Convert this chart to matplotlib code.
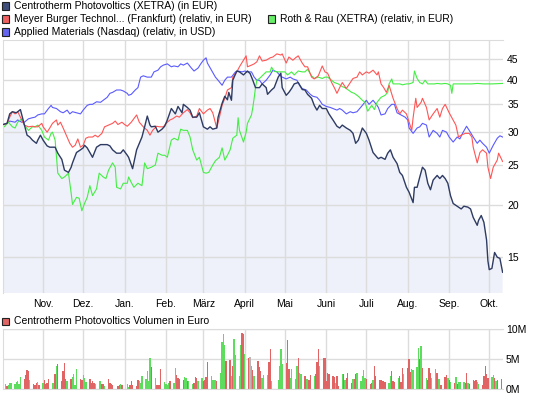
import numpy as np
import pandas as pd
import matplotlib
matplotlib.use("Agg")
import matplotlib.pyplot as plt
import matplotlib.dates as mdates
from matplotlib.patches import Rectangle
from matplotlib.ticker import NullLocator, FixedLocator, FixedFormatter

plt.rcParams['font.family'] = ['Liberation Sans', 'DejaVu Sans']

# (day since 2010-10-02, price)
centrotherm = [(0, 31.3), (3, 31.5), (5, 33.2), (7, 33.6), (10, 33.4), (13, 34.0), (15, 32.1), (18, 29.5),
               (20, 29.2), (22, 28.7), (25, 28.2), (26, 28.7), (28, 29.5), (30, 28.7), (33, 27.8), (35, 27.6),
               (39, 27.6), (41, 26.7), (44, 25.8), (46, 24.3), (49, 24.0), (51, 24.7), (52, 25.3), (55, 26.8),
               (58, 27.2), (60, 27.5), (61, 27.9), (63, 27.5), (65, 26.8), (67, 26.1), (70, 27.6), (73, 28.0),
               (78, 28.0), (80, 27.8), (82, 27.2), (85, 26.7), (88, 26.7), (90, 27.2), (93, 26.4), (94, 26.1),
               (97, 24.5), (100, 27.2), (102, 28.2), (104, 29.2), (106, 30.9), (108, 32.8), (110, 31.2), (111, 30.9),
               (114, 31.0), (116, 30.0), (119, 30.5), (121, 31.0), (123, 32.1), (126, 34.2), (129, 33.2), (131, 34.6),
               (134, 33.4), (135, 35.0), (138, 34.4), (140, 33.9), (142, 32.6), (145, 32.6), (147, 33.4), (150, 30.9),
               (153, 30.5), (155, 30.9), (157, 30.5), (160, 30.7), (161, 32.6), (164, 35.2), (166, 36.6), (168, 35.9),
               (169, 37.4), (171, 35.8), (172, 40.0), (175, 42.1), (177, 41.9), (180, 41.2), (183, 42.1), (185, 41.5),
               (187, 40.0), (189, 38.4), (192, 38.4), (194, 39.2), (197, 38.4), (198, 37.0), (201, 37.9), (203, 38.4),
               (206, 40.7), (208, 41.6), (209, 38.4), (212, 36.8), (214, 37.4), (216, 38.2), (218, 39.2), (221, 39.5),
               (224, 38.0), (226, 37.9), (228, 37.0), (231, 36.2), (233, 34.8), (235, 33.9), (237, 34.8), (239, 34.2),
               (242, 34.2), (244, 33.2), (247, 32.1), (250, 31.0), (252, 30.7), (254, 31.2), (257, 30.7), (260, 30.3),
               (262, 29.8), (264, 28.2), (266, 28.7), (269, 30.7), (272, 29.8), (274, 28.7), (277, 26.8), (280, 26.1),
               (281, 25.9), (283, 26.1), (286, 25.8), (288, 26.7), (290, 27.2), (292, 26.1), (295, 25.2), (297, 24.0),
               (299, 23.6), (302, 22.1), (304, 21.5), (307, 20.3), (308, 22.1), (310, 22.1), (312, 23.4), (314, 24.7),
               (316, 24.3), (318, 22.6), (320, 21.8), (322, 23.0), (325, 23.6), (327, 23.2), (329, 23.6), (331, 23.2),
               (333, 22.6), (335, 21.1), (337, 20.2), (340, 19.9), (343, 19.6), (345, 19.9), (348, 19.8), (350, 19.6),
               (352, 18.7), (355, 17.9), (356, 18.4), (358, 18.9), (360, 18.2), (362, 16.5), (363, 14.7), (364, 14.0),
               (366, 14.1), (368, 15.4), (370, 15.0), (372, 14.9), (374, 13.8)]

meyer = [(0, 31.2), (3, 31.5), (5, 32.6), (7, 33.6), (9, 33.2), (11, 33.6), (14, 32.1), (16, 31.2), (19, 30.9),
         (22, 31.0), (24, 30.9), (26, 30.9), (29, 31.5), (30, 30.9), (33, 30.0), (35, 30.7), (37, 31.5), (40, 32.1),
         (41, 31.2), (43, 31.7), (45, 30.7), (48, 29.2), (50, 28.2), (52, 27.6), (54, 27.9), (56, 28.9), (58, 27.6),
         (60, 27.9), (62, 29.0), (64, 29.2), (67, 29.2), (69, 29.5), (71, 29.2), (74, 29.8), (76, 30.9), (79, 31.2),
         (82, 31.5), (84, 31.9), (86, 31.3), (89, 31.7), (91, 31.3), (93, 31.0), (96, 31.7), (100, 33.0), (102, 31.7),
         (105, 30.9), (108, 30.3), (110, 29.5), (112, 30.3), (115, 31.0), (117, 30.9), (120, 30.9), (123, 31.7),
         (125, 32.1), (127, 32.3), (130, 32.8), (132, 32.6), (135, 33.4), (138, 34.0), (140, 33.4), (142, 32.5),
         (145, 32.8), (147, 34.2), (150, 33.2), (153, 33.9), (155, 34.2), (157, 33.4), (160, 30.7), (162, 32.6),
         (164, 34.8), (166, 36.2), (168, 37.9), (171, 38.4), (172, 40.7), (175, 41.9), (177, 43.1), (180, 44.7),
         (182, 45.8), (183, 43.1), (186, 43.5), (188, 43.8), (190, 44.3), (192, 45.8), (194, 44.5), (197, 44.7),
         (200, 45.3), (202, 45.5), (205, 46.3), (208, 46.0), (209, 46.3), (212, 44.0), (214, 45.5), (217, 44.7),
         (219, 45.3), (221, 45.8), (224, 44.0), (226, 43.1), (228, 43.1), (231, 40.7), (233, 40.3), (236, 41.0),
         (239, 43.3), (241, 41.9), (243, 41.6), (246, 39.5), (248, 38.4), (250, 37.2), (252, 38.4), (254, 39.5),
         (257, 38.2), (260, 39.5), (262, 40.4), (265, 40.7), (267, 41.9), (269, 41.2), (272, 41.9), (274, 41.6),
         (277, 42.3), (280, 41.2), (281, 41.9), (283, 39.2), (285, 38.4), (287, 37.4), (289, 38.9), (292, 36.2),
         (295, 34.2), (297, 33.2), (299, 33.9), (302, 33.2), (304, 31.7), (306, 30.3), (307, 32.5), (309, 36.2),
         (310, 34.4), (313, 35.4), (314, 36.2), (317, 34.4), (319, 32.1), (322, 33.2), (325, 34.2), (327, 32.6),
         (329, 34.2), (331, 35.0), (334, 33.4), (336, 32.5), (339, 31.2), (341, 29.2), (343, 29.5), (346, 29.8),
         (349, 29.8), (351, 29.2), (352, 27.6), (355, 25.3), (357, 26.8), (359, 27.2), (362, 26.7), (363, 24.7),
         (365, 23.2), (367, 24.7), (370, 25.7), (371, 26.7), (373, 25.9), (374, 25.5)]

roth = [(0, 31.2), (1, 30.9), (4, 31.7), (7, 30.9), (9, 30.7), (11, 31.7), (14, 32.3), (16, 31.2), (19, 30.3),
        (22, 30.9), (24, 30.9), (26, 31.2), (29, 30.3), (31, 29.2), (34, 28.7), (36, 29.8), (37, 30.0), (39, 28.7),
        (40, 26.1), (41, 23.9), (44, 23.2), (46, 23.4), (49, 23.9), (51, 21.4), (52, 20.1), (55, 20.9), (57, 20.8),
        (59, 19.4), (61, 20.2), (63, 20.9), (65, 22.3), (67, 21.1), (70, 21.9), (72, 23.9), (75, 23.4), (77, 23.2),
        (79, 24.3), (82, 25.3), (84, 24.7), (85, 22.1), (88, 21.9), (90, 22.6), (93, 22.6), (94, 23.4), (96, 22.7),
        (98, 22.1), (101, 22.6), (104, 22.3), (106, 25.3), (108, 24.5), (111, 24.7), (114, 25.0), (116, 26.7),
        (119, 26.4), (121, 26.4), (123, 26.1), (126, 28.7), (128, 29.0), (131, 28.7), (133, 30.5), (135, 30.3),
        (138, 30.3), (140, 29.2), (142, 27.2), (145, 25.7), (147, 26.1), (150, 24.0), (152, 23.9), (154, 24.0),
        (157, 25.0), (159, 25.6), (162, 26.1), (164, 27.5), (166, 25.7), (168, 26.4), (170, 27.2), (172, 29.0),
        (175, 29.5), (176, 32.5), (177, 30.3), (180, 28.4), (182, 30.0), (183, 31.5), (186, 33.0), (187, 34.4),
        (188, 36.2), (189, 38.4), (190, 40.0), (192, 40.4), (194, 41.0), (197, 41.9), (200, 41.9), (201, 43.0),
        (203, 42.0), (206, 41.9), (209, 41.9), (211, 41.9), (213, 41.2), (216, 41.9), (218, 41.2), (221, 42.1),
        (224, 41.9), (226, 41.9), (228, 42.5), (231, 41.0), (233, 40.4), (236, 40.7), (239, 40.4), (241, 40.7),
        (243, 40.7), (246, 40.0), (248, 39.5), (251, 39.2), (254, 38.6), (256, 38.4), (258, 38.0), (261, 37.4),
        (263, 37.2), (266, 36.6), (269, 35.8), (271, 35.4), (273, 33.7), (276, 34.8), (278, 34.0), (280, 35.4),
        (283, 36.4), (286, 36.8), (288, 37.4), (289, 39.2), (291, 40.3), (292, 39.2), (295, 39.2), (297, 39.2),
        (299, 39.0), (302, 39.2), (304, 39.2), (307, 39.5), (308, 42.1), (310, 40.4), (312, 39.5), (314, 39.2),
        (316, 40.0), (318, 39.2), (321, 39.2), (323, 39.2), (325, 39.3), (328, 39.2), (331, 39.3), (333, 39.2),
        (335, 38.9), (336, 37.2), (337, 39.2), (340, 39.2), (346, 39.2), (351, 39.2), (355, 39.3), (360, 39.2),
        (366, 39.2), (374, 39.3)]

applied = [(0, 31.3), (3, 31.5), (5, 31.9), (9, 31.7), (11, 32.1), (14, 31.7), (16, 31.7), (19, 32.3), (22, 32.5),
           (24, 32.6), (26, 33.0), (29, 33.2), (31, 33.2), (34, 34.2), (36, 34.8), (37, 34.4), (40, 34.2), (43, 33.6),
           (45, 33.4), (48, 33.9), (50, 33.2), (52, 33.6), (55, 33.4), (58, 33.2), (60, 33.9), (63, 34.8), (65, 35.0),
           (67, 35.0), (70, 35.5), (73, 35.4), (75, 35.8), (78, 36.4), (80, 37.2), (82, 37.4), (85, 37.9), (88, 37.9),
           (90, 37.7), (93, 37.2), (94, 36.8), (96, 37.0), (99, 37.9), (101, 38.4), (103, 40.7), (105, 41.0),
           (108, 40.7), (111, 40.7), (113, 41.9), (116, 42.3), (118, 43.1), (120, 43.5), (123, 43.8), (126, 43.1),
           (128, 43.3), (131, 43.1), (133, 43.8), (135, 43.5), (138, 44.0), (141, 42.8), (143, 42.1), (146, 42.8),
           (148, 43.8), (150, 44.7), (152, 45.3), (153, 44.0), (156, 42.3), (159, 40.7), (161, 40.0), (164, 38.9),
           (166, 40.0), (168, 40.7), (171, 40.7), (174, 41.9), (176, 42.1), (179, 41.9), (181, 42.1), (183, 41.9),
           (186, 41.9), (188, 40.7), (190, 40.0), (192, 40.0), (194, 39.2), (197, 40.0), (200, 41.2), (202, 42.3),
           (205, 41.9), (207, 41.2), (209, 40.7), (212, 40.3), (215, 40.7), (217, 40.3), (220, 40.0), (222, 38.9),
           (224, 38.2), (227, 37.9), (230, 37.0), (232, 36.6), (235, 36.4), (237, 35.8), (239, 35.0), (242, 34.6),
           (245, 34.4), (247, 34.2), (250, 33.9), (252, 34.2), (254, 33.9), (257, 33.2), (260, 33.6), (262, 33.4),
           (265, 33.6), (267, 34.2), (269, 34.8), (272, 35.8), (274, 35.0), (277, 35.8), (280, 34.8), (281, 34.4),
           (283, 33.0), (286, 33.2), (288, 34.2), (291, 35.0), (293, 35.0), (295, 33.4), (298, 33.0), (301, 32.6),
           (303, 32.1), (304, 30.7), (307, 29.8), (310, 30.7), (312, 30.9), (314, 31.5), (317, 31.2), (319, 29.2),
           (322, 30.3), (325, 29.8), (327, 29.2), (329, 30.3), (332, 30.0), (334, 29.2), (337, 28.4), (340, 29.2),
           (342, 28.9), (344, 29.8), (347, 31.0), (349, 30.3), (352, 29.2), (355, 28.2), (357, 28.7), (359, 28.2),
           (362, 27.6), (364, 26.7), (367, 27.9), (370, 29.0), (372, 29.4), (374, 29.2)]

# daily volume in million EUR, g = up day, r = down day, n = unchanged
volume = [0.84, 0.56, 0.67, 1.0, 1.0, 0.8, 1.2, 1.35, 0.8, 2.0, 1.7, 2.4, 3.2, 3.0, 1.5, 0.85, 0.67, 1.0, 1.1, 0.67,
          1.0, 1.5, 0.85, 1.0, 1.7, 1.0, 1.0, 2.5, 3.9, 4.2, 1.35, 3.0, 4.4, 1.7, 1.35, 1.7, 2.0, 2.5, 0.67, 3.4,
          1.7, 1.5, 2.4, 1.85, 1.2, 1.7, 1.0, 1.35, 1.0, 0.85, 1.35, 1.35, 0.85, 0.85, 0.5, 1.7, 1.0, 0.85, 0.67, 0.5,
          0.67, 0.85, 0.67, 0.85, 0.35, 0.67, 1.35, 0.67, 0.5, 1.5, 1.35, 1.0, 2.2, 1.7, 3.0, 1.35, 5.2, 3.7, 1.85, 0.67,
          0.67, 0.67, 3.4, 1.2, 0.85, 0.67, 1.0, 1.35, 1.0, 3.5, 2.4, 1.85, 1.7, 1.5, 2.0, 1.85, 1.35, 1.35, 0.85, 1.0,
          2.0, 1.85, 1.35, 1.85, 1.35, 1.5, 2.0, 4.55, 2.2, 1.5, 1.5, 1.5, 1.35, 2.7, 7.9, 9.1, 7.4, 4.7, 4.9, 2.2,
          3.9, 8.4, 5.6, 2.2, 7.4, 9.3, 9.1, 5.9, 5.2, 5.4, 3.9, 3.2, 2.2, 4.7, 3.7, 3.0,
          1.85, 2.4, 2.4, 4.55, 6.6, 1.35, 1.5, 3.9, 6.7, 4.2, 4.4, 8.1, 3.4, 1.85, 3.4, 1.7, 3.9, 5.2, 2.7, 2.5,
          2.2, 1.7, 1.7, 1.5, 2.4, 2.2, 2.5, 4.55, 6.6, 3.9, 5.2, 5.2, 1.35, 2.7, 2.5, 2.2, 2.0, 1.0, 2.2, 0.5,
          2.5, 2.5, 1.5, 1.85, 2.7, 1.0, 1.7, 1.7, 2.5, 2.7, 1.35, 2.2, 3.2, 1.85, 1.7, 0.85, 1.0, 1.5, 3.9, 2.2,
          1.5, 1.5, 1.35, 1.35, 1.2, 1.0, 2.2, 3.0, 1.35, 1.2, 1.85, 2.2, 1.2, 3.5, 2.5, 3.5, 5.05, 2.9, 3.4, 3.2,
          3.7, 6.9, 5.05, 7.1, 3.5, 1.85, 1.5, 3.5, 2.7, 1.85, 3.4, 2.7, 1.7, 1.7, 0.67, 2.0, 2.4, 1.85, 1.5, 1.2,
          1.0, 2.0, 0.85, 1.2, 1.2, 1.2, 1.0, 2.7, 1.0, 0.85, 1.5, 1.35, 1.5, 1.2, 0.85, 0.67, 2.2, 3.9, 2.5, 1.85,
          2.0, 2.4, 1.85, 1.35, 1.5, 1.7]
vol_dir = ("grggggggggrrrrgrrrgrgrrrrggrgrrrrrgrggggrrgggrrrrgggrrgrrrrr"
           "rgrggrrrrrgggggggrgrrrrggggrggrrrrggrggrrrggrrrrggggrggggrrg"
           "rggggrrgrngrgrrr"
           "gggrrgggggrrrggggrggrggrrgrrrgrrrrrrrgrrgrgrrrgrrgggggrrrgrr"
           "rrrrrggrrrgrrrgrrrggggrgrgrrrggrggrrrgrgrgrgggrrgrrrrggrrrrr"
           "ggrgrr")

months = ["Nov.", "Dez.", "Jan.", "Feb.", "März", "April", "Mai", "Juni", "Juli", "Aug.", "Sep.", "Okt."]
month_starts = pd.date_range("2010-11-01", periods=12, freq="MS")
price_ticks = [15, 20, 25, 30, 35, 40, 45]

start = np.datetime64("2010-10-02")


def to_xy(pairs):
    d, v = zip(*pairs)
    return start + np.array(d).astype("timedelta64[D]"), np.array(v)


W, H = 545, 398
fig = plt.figure(figsize=(W / 100, H / 100), dpi=100)
ax = fig.add_axes([2.5 / W, 1 - 293 / H, 500.5 / W, 253 / H])
axv = fig.add_axes([2.5 / W, 1 - 389 / H, 500.5 / W, 60 / H])

grid_c = "#dcdcdc"
x0 = mdates.date2num(start) - 0.4
x1 = mdates.date2num(start) + 374.3

# price panel
cx, cy = to_xy(centrotherm)
ax.fill_between(cx, cy, 1, color="#eef1f9", zorder=0.2, lw=0)
for pairs, col in [(applied, "#5a5aff"), (roth, "#44ee44"), (meyer, "#ff5555")]:
    px, py = to_xy(pairs)
    ax.plot(px, py, color=col, lw=0.8, zorder=2)
ax.plot(cx, cy, color="#2e3b63", lw=1.0, zorder=3)

ax.set_yscale("log")
ax.set_ylim(12.3, 50)
ax.set_xlim(x0, x1)
ax.yaxis.set_major_locator(FixedLocator(price_ticks))
ax.yaxis.set_major_formatter(FixedFormatter([str(t) for t in price_ticks]))
ax.yaxis.set_minor_locator(NullLocator())
ax.yaxis.tick_right()
ax.set_xticks(mdates.date2num(month_starts))
ax.set_xticklabels(months)
ax.tick_params(length=0, labelsize=7.5, colors="black")
ax.tick_params(axis="x", pad=4)
ax.tick_params(axis="y", pad=3)
ax.grid(True, color=grid_c, lw=1)
ax.set_axisbelow(True)
for s in ax.spines.values():
    s.set_color(grid_c)
ax.spines["right"].set_visible(False)
ax.spines["bottom"].set_visible(False)

# volume panel
n = min(len(volume), len(vol_dir))
vdates = pd.bdate_range("2010-10-04", periods=n, freq="C",
                        holidays=["2010-12-24", "2010-12-31", "2011-04-22", "2011-04-25"])
cmap = {"g": "#5ddc5d", "r": "#e06464", "n": "#b8b8b8"}
axv.bar(mdates.date2num(vdates), np.array(volume[:n]) * 1e6, width=1.0,
        color=[cmap[c] for c in vol_dir[:n]], zorder=2, lw=0)
axv.set_xlim(x0, x1)
axv.set_ylim(0, 10e6)
axv.set_yticks([0, 5e6, 10e6])
axv.set_yticklabels(["0M", "5M", "10M"])
axv.yaxis.tick_right()
axv.set_xticks(mdates.date2num(month_starts))
axv.set_xticklabels([])
axv.tick_params(length=0, labelsize=7.5, pad=2)
axv.grid(True, color=grid_c, lw=1)
axv.set_axisbelow(True)
for s in axv.spines.values():
    s.set_color(grid_c)
axv.spines["right"].set_visible(False)


def key(x, y, color, label):
    fig.add_artist(Rectangle((x / W, 1 - (y + 3.5) / H), 7 / W, 7 / H, transform=fig.transFigure,
                             facecolor=color, edgecolor="#222222", lw=0.8))
    fig.text((x + 12) / W, 1 - y / H, label, fontsize=7.5, va="center", ha="left")


key(2, 6, "#3f4e7a", "Centrotherm Photovoltics (XETRA) (in EUR)")
key(2, 19, "#f06060", "Meyer Burger Technol... (Frankfurt) (relativ, in EUR)")
key(268, 19, "#66ee66", "Roth & Rau (XETRA) (relativ, in EUR)")
key(2, 32, "#6464f0", "Applied Materials (Nasdaq) (relativ, in USD)")
key(2, 321, "#e06464", "Centrotherm Photovoltics Volumen in Euro")

fig.savefig("out.png", dpi=100)
